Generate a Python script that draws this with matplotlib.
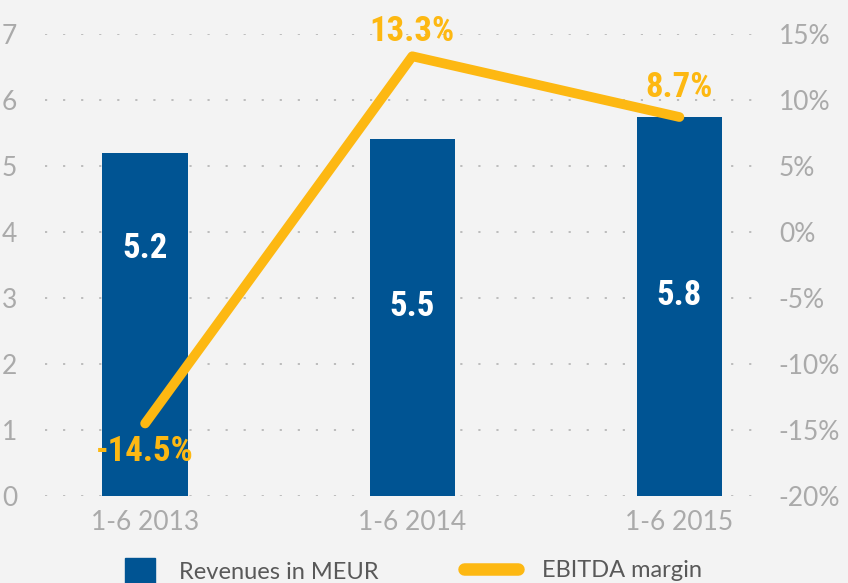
import matplotlib.pyplot as plt
from matplotlib.patches import Patch
from matplotlib.lines import Line2D

# data
periods = ["1-6 2013", "1-6 2014", "1-6 2015"]
revenues = [5.2, 5.41, 5.74]
ebitda_margin = [-14.5, 13.3, 8.7]
rev_labels = ["5.2", "5.5", "5.8"]
margin_labels = ["-14.5%", "13.3%", "8.7%"]
left_ticks = [0, 1, 2, 3, 4, 5, 6, 7]
right_ticks = [-20, -15, -10, -5, 0, 5, 10, 15]

BG = "#f3f3f3"
BLUE = "#005493"
GOLD = "#fdb812"
TICK = "#aaaaaa"
num_font = ["Roboto Condensed", "DejaVu Sans"]
txt_font = ["Lato", "DejaVu Sans"]

fig = plt.figure(figsize=(8.48, 5.83), dpi=100, facecolor=BG)
ax = fig.add_axes([0.053, 0.149, 0.849, 0.793])
ax.set_facecolor(BG)
x = list(range(len(periods)))

# bars
ax.bar(x, revenues, width=0.32, color=BLUE, zorder=2)
ax.set_ylim(0, 7)
ax.set_xlim(-0.375, 2.32)
ax.set_yticks(left_ticks)
ax.set_xticks(x)
ax.set_xticklabels(periods)
ax.yaxis.grid(True, color="#b8b8b8", linestyle=(0, (1.2, 8.8)), linewidth=1.3, zorder=0)
ax.set_axisbelow(True)
for s in ax.spines.values():
    s.set_visible(False)
ax.tick_params(length=0, colors=TICK, labelsize=19)
ax.tick_params(axis="x", pad=10)
ax.tick_params(axis="y", pad=20)
for lab in ax.get_xticklabels() + ax.get_yticklabels():
    lab.set_family(txt_font)

# bar value labels
frac = [0.72, 0.53, 0.53]
for xi, v, lab, f in zip(x, revenues, rev_labels, frac):
    ax.text(xi, v * f, lab, color="white", ha="center", va="center",
            fontsize=25, fontweight="bold", fontstretch="condensed",
            family=num_font, zorder=3)

# EBITDA margin line
ax2 = ax.twinx()
ax2.plot(x, ebitda_margin, color=GOLD, linewidth=7, solid_capstyle="round", zorder=4)
ax2.set_ylim(-20, 15)
ax2.set_yticks(right_ticks)
ax2.set_yticklabels([f"{t}%" for t in right_ticks])
for s in ax2.spines.values():
    s.set_visible(False)
ax2.tick_params(length=0, colors=TICK, labelsize=19, pad=10)
for lab in ax2.get_yticklabels():
    lab.set_family(txt_font)

offs = [-2.1, 1.85, 2.25]
for xi, v, lab, o in zip(x, ebitda_margin, margin_labels, offs):
    ax2.text(xi, v + o, lab, color=GOLD, ha="center", va="center",
             fontsize=25, fontweight="bold", fontstretch="condensed",
             family=num_font, zorder=5)

# legend
leg1 = fig.legend([Patch(color=BLUE)], ["Revenues in MEUR"], loc="center left",
                  bbox_to_anchor=(0.122, 0.021), frameon=False,
                  handlelength=1.3, handleheight=1.3, handletextpad=1.0,
                  prop={"family": txt_font, "size": 17})
leg2 = fig.legend([Line2D([0], [0], color=GOLD, linewidth=9, solid_capstyle="round")],
                  ["EBITDA margin"], loc="center left",
                  bbox_to_anchor=(0.522, 0.021), frameon=False,
                  handlelength=2.3, handletextpad=1.0,
                  prop={"family": txt_font, "size": 17})
for leg in (leg1, leg2):
    for t in leg.get_texts():
        t.set_color("#595959")

fig.savefig("out.png", dpi=100, facecolor=BG)
